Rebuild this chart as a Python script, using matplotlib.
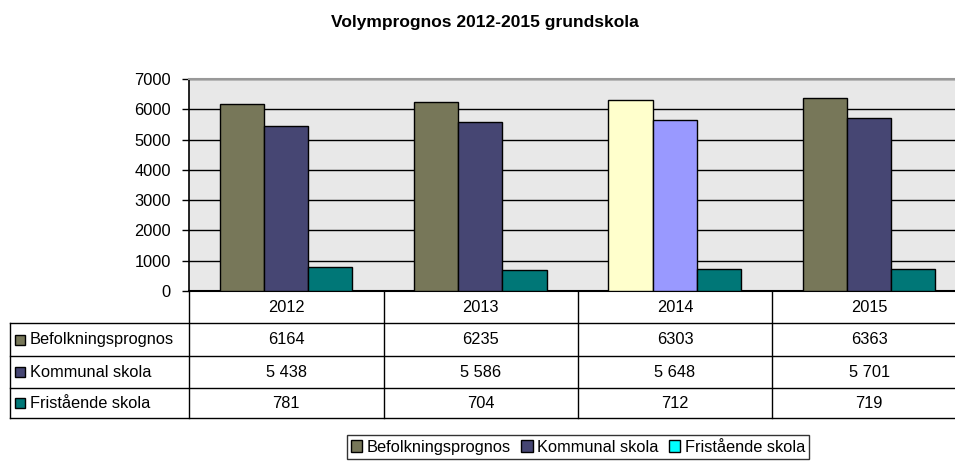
import numpy as np
import matplotlib
matplotlib.use('Agg')
import matplotlib.pyplot as plt
from matplotlib.patches import Rectangle, Patch

plt.rcParams['font.family'] = ['Liberation Sans', 'DejaVu Sans']

years = ['2012', '2013', '2014', '2015']
series_names = ['Befolkningsprognos', 'Kommunal skola', 'Fristående skola']
befolkning = [6164, 6235, 6303, 6363]
kommunal = [5438, 5586, 5648, 5701]
fristaende = [781, 704, 712, 719]
kommunal_labels = ['5 438', '5 586', '5 648', '5 701']

series = [befolkning, kommunal, fristaende]
colors = ['#777759', '#464673', '#007777']
# 2014 has its own highlighted colours in the original
colors_2014 = ['#FFFFCC', '#9999FF', '#007777']
legend_colors = ['#777759', '#464673', '#00FFFF']

FS = 11.8
W, H = 955, 465
fig = plt.figure(figsize=(W / 100, H / 100), dpi=100)

# plot area in pixels (runs past the right edge of the picture, like the original)
L, R, T, B = 189, 966, 79, 291
ax = fig.add_axes([L / W, 1 - B / H, (R - L) / W, (B - T) / H])
ax.set_facecolor('#E8E8E8')

x = np.arange(len(years))
bw = 0.227
for i, vals in enumerate(series):
    cols = [colors_2014[i] if y == '2014' else colors[i] for y in years]
    ax.bar(x + (i - 1) * bw, vals, bw, color=cols, edgecolor='black',
           linewidth=1, zorder=3)

ax.set_xlim(-0.5, len(years) - 0.5)
ax.set_ylim(0, 7000)
ax.set_yticks(range(0, 7001, 1000))
ax.tick_params(axis='y', labelsize=FS, length=5, width=1, pad=8)
ax.set_xticks([])
ax.yaxis.grid(True, color='black', linewidth=1, zorder=1)
ax.spines['right'].set_visible(False)
ax.spines['top'].set_color('#999999')
ax.spines['top'].set_linewidth(1.5)
ax.spines['left'].set_linewidth(1.2)
ax.spines['bottom'].set_linewidth(1.5)

fig.suptitle('Volymprognos 2012-2015 grundskola', x=485 / W, y=1 - 22 / H,
             va='center', fontsize=12.5, fontweight='bold')


# table drawn in figure pixel coordinates
def fx(px):
    return px / W


def fy(py):
    return 1 - py / H


rows_y = [291, 323, 356, 388, 418]
col_x = [10, 189, 383.5, 578, 772, 966]
lw = 1

def hline(y, x0, x1):
    fig.add_artist(plt.Line2D([fx(x0), fx(x1)], [fy(y), fy(y)], color='black', lw=lw))

def vline(x0, y0, y1):
    fig.add_artist(plt.Line2D([fx(x0), fx(x0)], [fy(y0), fy(y1)], color='black', lw=lw))

for y in rows_y[1:]:
    hline(y, col_x[0], col_x[-1])
for xc in col_x[1:-1]:
    vline(xc, rows_y[0], rows_y[-1])
vline(col_x[0], rows_y[1], rows_y[-1])

for j, yr in enumerate(years):
    cx = (col_x[j + 1] + col_x[j + 2]) / 2
    fig.text(fx(cx), fy((rows_y[0] + rows_y[1]) / 2), yr, ha='center', va='center', fontsize=FS)

cell_text = [[str(v) for v in befolkning], kommunal_labels, [str(v) for v in fristaende]]
for i, name in enumerate(series_names):
    cy = (rows_y[i + 1] + rows_y[i + 2]) / 2
    fig.add_artist(Rectangle((fx(15), fy(cy + 5)), 10 / W, 10 / H, facecolor=colors[i],
                             edgecolor='black', lw=1))
    fig.text(fx(30), fy(cy), name, ha='left', va='center', fontsize=FS)
    for j in range(len(years)):
        cx = (col_x[j + 1] + col_x[j + 2]) / 2
        fig.text(fx(cx), fy(cy), cell_text[i][j], ha='center', va='center', fontsize=FS)

handles = [Patch(facecolor=c, edgecolor='black', lw=1) for c in legend_colors]
leg = fig.legend(handles, series_names, loc='center',
                 bbox_to_anchor=(fx(578), fy(447)), ncol=3,
                 fontsize=FS, frameon=True, fancybox=False, edgecolor='black',
                 handlelength=0.7, handleheight=0.7, handletextpad=0.3,
                 columnspacing=0.6, borderpad=0.25, borderaxespad=0)
leg.get_frame().set_linewidth(1)

fig.savefig('out.png', dpi=100)
